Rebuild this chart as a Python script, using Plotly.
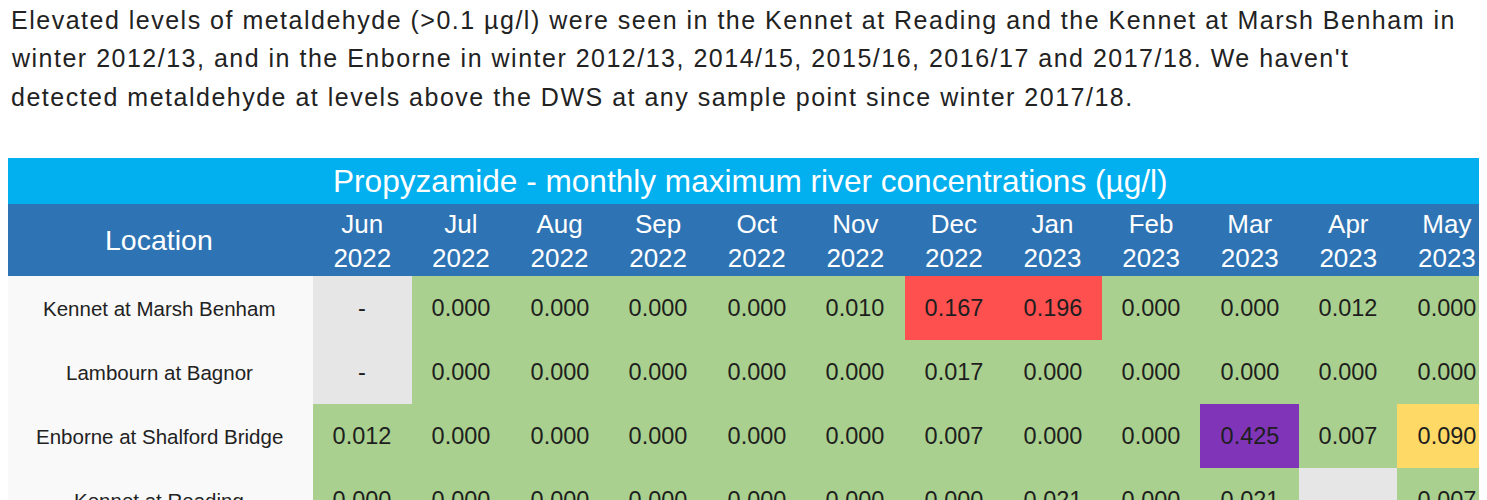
import plotly.graph_objects as go

# ---------------- data ----------------
intro_lines = [
    "Elevated levels of metaldehyde (>0.1 µg/l) were seen in the Kennet at Reading and the Kennet at Marsh Benham in",
    "winter 2012/13, and in the Enborne in winter 2012/13, 2014/15, 2015/16, 2016/17 and 2017/18. We haven't",
    "detected metaldehyde at levels above the DWS at any sample point since winter 2017/18.",
]
table_title = "Propyzamide - monthly maximum river concentrations (µg/l)"
location_header = "Location"
months = ["Jun", "Jul", "Aug", "Sep", "Oct", "Nov", "Dec", "Jan", "Feb", "Mar", "Apr", "May"]
years = ["2022", "2022", "2022", "2022", "2022", "2022", "2022", "2023", "2023", "2023", "2023", "2023"]
locations = ["Kennet at Marsh Benham", "Lambourn at Bagnor", "Enborne at Shalford Bridge", "Kennet at Reading"]

marsh_benham = [None, 0.000, 0.000, 0.000, 0.000, 0.010, 0.167, 0.196, 0.000, 0.000, 0.012, 0.000]
bagnor = [None, 0.000, 0.000, 0.000, 0.000, 0.000, 0.017, 0.000, 0.000, 0.000, 0.000, 0.000]
shalford = [0.012, 0.000, 0.000, 0.000, 0.000, 0.000, 0.007, 0.000, 0.000, 0.425, 0.007, 0.090]
reading = [0.000, 0.000, 0.000, 0.000, 0.000, 0.000, 0.000, 0.021, 0.000, 0.021, None, 0.007]
rows = [marsh_benham, bagnor, shalford, reading]

# band colours: missing, low, watch, above DWS, very high
band_colors = ["#E6E6E6", "#A9D08E", "#FFD966", "#FF5050", "#8035B9"]


def band(v):
    if v is None:
        return 0
    if v >= 0.4:
        return 4
    if v > 0.1:
        return 3
    if v >= 0.05:
        return 2
    return 1


z = [[band(v) for v in r] for r in rows]
text = [["-" if v is None else f"{v:.3f}" for v in r] for r in rows]

# ---------------- layout geometry (page pixels) ----------------
OFF = 8                      # default body margin of the page
PAGE_W, PAGE_H = 1487, 500
W, H = PAGE_W - OFF, PAGE_H - OFF
TABLE_L = 5
LOC_R = 313
COL_W = 98.6
TITLE_T, HEAD_T, BODY_T = 158, 204, 276
ROW_H = 64
FONT = "Liberation Sans"


def py(p):
    return (H - (p - OFF)) / H


def px(p):
    return (p - OFF) / W


n = len(months)
x_hi = -0.5 + (PAGE_W - LOC_R) / COL_W
y_hi = -0.5 + (PAGE_H - BODY_T) / ROW_H

k = len(band_colors)
colorscale = []
for i, c in enumerate(band_colors):
    colorscale.append([i / k, c])
    colorscale.append([(i + 1) / k, c])

fig = go.Figure(
    go.Heatmap(
        z=z,
        x=list(range(n)),
        y=list(range(len(locations))),
        text=text,
        texttemplate="%{text}",
        textfont=dict(family=FONT, size=23.5, color="#1e1e1e"),
        colorscale=colorscale,
        zmin=-0.5,
        zmax=k - 0.5,
        showscale=False,
        xgap=0,
        ygap=0,
        hoverinfo="skip",
    )
)

shapes = [
    dict(type="rect", xref="paper", yref="paper", x0=px(TABLE_L), x1=1, y0=py(HEAD_T), y1=py(TITLE_T),
         fillcolor="#02B0F0", line_width=0, layer="below"),
    dict(type="rect", xref="paper", yref="paper", x0=px(TABLE_L), x1=1, y0=py(BODY_T), y1=py(HEAD_T),
         fillcolor="#2E73B3", line_width=0, layer="below"),
    dict(type="rect", xref="paper", yref="paper", x0=px(TABLE_L), x1=px(LOC_R), y0=0, y1=py(BODY_T),
         fillcolor="#F9F9F9", line_width=0, layer="below"),
]

annotations = []
line_y = [20, 58, 97]
for t, yy in zip(intro_lines, line_y):
    annotations.append(dict(text=f'<span style="letter-spacing:1.5px">{t}</span>', xref="paper", yref="paper",
                            x=px(9), y=py(yy), xanchor="left", yanchor="middle", showarrow=False,
                            font=dict(family=FONT, size=25, color="#222222")))
annotations.append(dict(text=table_title, xref="paper", yref="paper", x=px(750.5),
                        y=py((TITLE_T + HEAD_T) / 2), xanchor="center", yanchor="middle", showarrow=False,
                        font=dict(family=FONT, size=31.6, color="white")))
annotations.append(dict(text=location_header, xref="paper", yref="paper", x=px((TABLE_L + LOC_R) / 2),
                        y=py((HEAD_T + BODY_T) / 2), xanchor="center", yanchor="middle", showarrow=False,
                        font=dict(family=FONT, size=28.5, color="white")))
for i, loc in enumerate(locations):
    annotations.append(dict(text=loc, xref="paper", yref="y", x=px((TABLE_L + LOC_R) / 2), y=i,
                            xanchor="center", yanchor="middle", showarrow=False,
                            font=dict(family=FONT, size=20.5, color="#222222")))

fig.update_layout(
    width=W,
    height=H,
    margin=dict(l=0, r=0, t=0, b=0),
    paper_bgcolor="white",
    plot_bgcolor="white",
    shapes=shapes,
    annotations=annotations,
    xaxis=dict(domain=[px(LOC_R), 1], range=[-0.5, x_hi], side="top", tickmode="array",
               tickvals=list(range(n)), ticktext=[f"{m}<br>{y}" for m, y in zip(months, years)],
               ticks="", showgrid=False, zeroline=False, showline=False, ticklabelstandoff=3,
               tickfont=dict(family=FONT, size=26, color="white"), fixedrange=True),
    yaxis=dict(domain=[0, py(BODY_T)], range=[y_hi, -0.5], showticklabels=False, ticks="",
               showgrid=False, zeroline=False, showline=False, fixedrange=True),
)

fig.write_html("out.html")
